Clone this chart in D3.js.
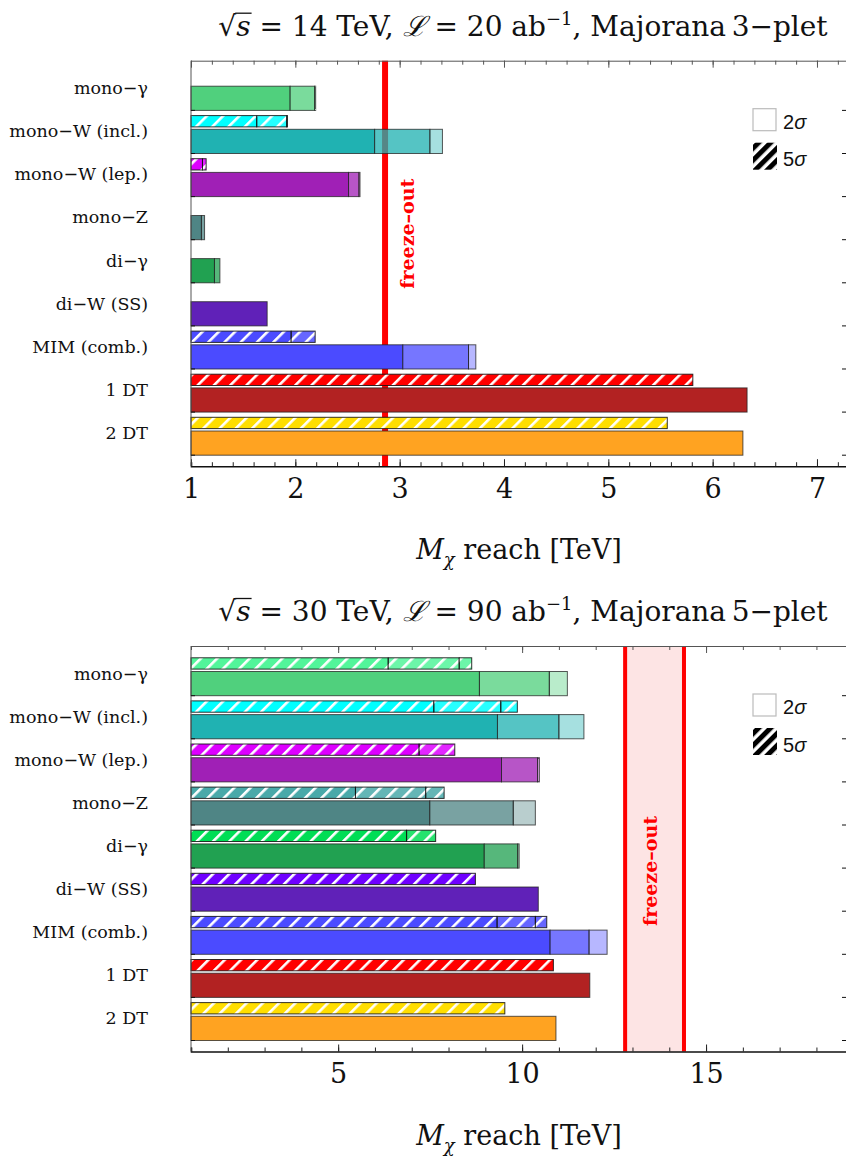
<!DOCTYPE html>
<html>
<head>
<meta charset="utf-8">
<script src="https://cdn.jsdelivr.net/npm/d3@7"></script>
<style>
  body { margin: 0; background: #fff; }
  svg { display: block; }
</style>
</head>
<body>
<svg id="chart" width="846" height="1160"></svg>
<script>
// search channels, same order in both panels
const categories = ["mono\u2212\u03b3", "mono\u2212W (incl.)", "mono\u2212W (lep.)", "mono\u2212Z",
  "di\u2212\u03b3", "di\u2212W (SS)", "MIM (comb.)", "1 DT", "2 DT"];

// colours for the 2 sigma (solid) and 5 sigma (hatched) bars
const fill2 = ["#50d07d", "#20b2b2", "#a020b6", "#4f8585", "#21a151", "#6021b8", "#4b4bff", "#b22222", "#ffa321"];
const fill5 = ["#52f59a", "#00ffff", "#dd00ff", "#49a9a9", "#00dd55", "#6f00ff", "#4b4bff", "#ff0000", "#ffde00"];

// sqrt(s) = 14 TeV, 20 ab^-1, Majorana 3-plet  (reach in TeV, up to 3 systematics steps)
const reach14_2s = [[1.95, 2.185, 2.195], [2.76, 3.29, 3.41], [2.51, 2.61, 2.62], [1.10, 1.13], [1.225, 1.277],
  [1.73], [3.03, 3.66, 3.73], [6.33], [6.29]];
const reach14_5s = [[], [1.63, 1.917, 1.925], [1.11, 1.145], [], [], [], [1.96, 2.19], [5.81], [5.565]];
const freeze14 = [2.86];

// sqrt(s) = 30 TeV, 90 ab^-1, Majorana 5-plet
const reach30_2s = [[8.84, 10.74, 11.23], [9.33, 11.0, 11.68], [9.44, 10.42, 10.47], [7.49, 9.76, 10.36],
  [8.97, 9.88, 9.92], [10.44], [10.76, 11.82, 12.31], [11.84], [10.92]];
const reach30_5s = [[6.36, 8.29, 8.63], [7.60, 9.42, 9.87], [7.20, 8.17], [5.47, 7.38, 7.88], [6.86, 7.65],
  [8.73], [9.32, 10.36, 10.67], [10.85], [9.53]];
const freeze30 = [12.8, 14.4];

const svg = d3.select("#chart");
const left = 191, right = 848, H = 405.5;
const segAlpha = [1, 0.76, 0.4];
const serif = "DejaVu Serif";

const defs = svg.append("defs");
defs.append("pattern").attr("id", "hatch")
  .attr("patternUnits", "userSpaceOnUse")
  .attr("width", 11.5).attr("height", 11.5)
  .attr("patternTransform", "rotate(45)")
  .append("rect").attr("width", 2.6).attr("height", 11.5).attr("fill", "#fff");
defs.append("pattern").attr("id", "hatchLegend")
  .attr("patternUnits", "userSpaceOnUse")
  .attr("width", 8.5).attr("height", 8.5)
  .attr("patternTransform", "rotate(45)")
  .append("rect").attr("width", 5).attr("height", 8.5).attr("fill", "#000");

function panel(top, cfg) {
  const g = svg.append("g").attr("transform", "translate(0," + top + ")");

  const x = d3.scaleLinear().domain(cfg.domain).range([left, right]);
  const y = d3.scaleBand().domain(categories).range([10, 10 + 9 * 43.1]);

  // freeze-out band / line
  if (cfg.freeze.length > 1) {
    g.append("rect")
      .attr("x", x(cfg.freeze[0])).attr("y", 0)
      .attr("width", x(cfg.freeze[1]) - x(cfg.freeze[0])).attr("height", H)
      .attr("fill", "#fde4e4");
  }
  g.selectAll(".fo").data(cfg.freeze).enter().append("line")
    .attr("x1", d => x(d)).attr("x2", d => x(d))
    .attr("y1", 0).attr("y2", H)
    .attr("stroke", "#ff0000").attr("stroke-width", cfg.freezeWidth);

  // flatten the segments: each bar split at the systematics steps
  function segments(vals) {
    const out = [];
    vals.forEach((v, i) => {
      v.forEach((end, k) => {
        out.push({cat: categories[i], i: i, k: k, x0: k === 0 ? cfg.domain[0] : v[k - 1], x1: end});
      });
    });
    return out;
  }

  // 2 sigma solid bars
  g.selectAll(".b2").data(segments(cfg.r2)).enter().append("rect")
    .attr("x", d => x(d.x0)).attr("width", d => x(d.x1) - x(d.x0))
    .attr("y", d => y(d.cat) + 15.5).attr("height", 24.2)
    .attr("fill", d => fill2[d.i]).attr("fill-opacity", d => segAlpha[d.k])
    .attr("stroke", "#222").attr("stroke-opacity", 0.75).attr("stroke-width", 1);

  // 5 sigma hatched bars
  const s5 = segments(cfg.r5);
  g.selectAll(".b5").data(s5).enter().append("rect")
    .attr("x", d => x(d.x0)).attr("width", d => x(d.x1) - x(d.x0))
    .attr("y", d => y(d.cat) + 1.8).attr("height", 11.3)
    .attr("fill", d => fill5[d.i]).attr("fill-opacity", d => d.k === 0 ? 1 : 0.85);
  g.selectAll(".h5").data(s5).enter().append("rect")
    .attr("x", d => x(d.x0)).attr("width", d => x(d.x1) - x(d.x0))
    .attr("y", d => y(d.cat) + 1.8).attr("height", 11.3)
    .attr("fill", "url(#hatch)")
    .attr("stroke", "#111").attr("stroke-opacity", 0.85).attr("stroke-width", 1);

  // frame: top ticks, left line, bottom axis
  const minor = d3.range(cfg.domain[0], cfg.domain[1] + 1e-9, cfg.minorStep);
  const major = cfg.major;
  g.append("g").call(d3.axisBottom(x).tickValues(minor).tickSize(4).tickFormat(""))
    .call(a => a.selectAll("path,line").attr("stroke", "#555"));
  g.append("g").call(d3.axisBottom(x).tickValues(major).tickSize(7).tickFormat(""))
    .call(a => a.select("path").remove())
    .call(a => a.selectAll("line").attr("stroke", "#555"));

  const bottom = g.append("g").attr("transform", "translate(0," + H + ")");
  bottom.append("g").call(d3.axisTop(x).tickValues(minor).tickSize(4).tickFormat(""))
    .call(a => a.select("path").attr("stroke", "#111").attr("stroke-width", 1.6))
    .call(a => a.selectAll("line").attr("stroke", "#222"));
  bottom.append("g").call(d3.axisTop(x).tickValues(major).tickSize(7).tickFormat(""))
    .call(a => a.select("path").remove())
    .call(a => a.selectAll("line").attr("stroke", "#222"));
  bottom.append("g").call(d3.axisBottom(x).tickValues(cfg.labels).tickFormat(d3.format("d")).tickSize(0).tickPadding(12))
    .call(a => a.select("path").remove())
    .call(a => a.selectAll("text").attr("font-family", serif).attr("font-size", 27).attr("fill", "#111").attr("dy", "0.72em"));

  g.append("line").attr("x1", left).attr("x2", left).attr("y1", 0).attr("y2", H)
    .attr("stroke", "#555").attr("stroke-width", 1);

  // row ticks on both sides
  g.selectAll(".tl").data(categories).enter().append("line")
    .attr("x1", left).attr("x2", left + 4)
    .attr("y1", d => y(d) + 39.7).attr("y2", d => y(d) + 39.7)
    .attr("stroke", "#111");
  g.selectAll(".tr").data(categories).enter().append("line")
    .attr("x1", 846).attr("x2", 842)
    .attr("y1", d => y(d) + 39.7).attr("y2", d => y(d) + 39.7)
    .attr("stroke", "#111");

  // channel labels
  g.selectAll(".cl").data(categories).enter().append("text")
    .attr("x", 148).attr("y", d => y(d) + 23.5)
    .attr("text-anchor", "end")
    .attr("font-family", serif).attr("font-size", 17.5).attr("fill", "#111")
    .text(d => d);

  // freeze-out label
  g.append("text")
    .attr("transform", "translate(" + (x(cfg.freeze[0]) + cfg.foDx) + "," + cfg.foY + ") rotate(-90)")
    .attr("text-anchor", "middle")
    .attr("font-family", serif).attr("font-weight", "bold").attr("font-size", 19)
    .attr("fill", "#ff0000")
    .text("freeze\u2013out");

  // legend
  const lg = g.append("g").attr("transform", "translate(753,48)");
  lg.append("rect").attr("width", 23).attr("height", 22)
    .attr("fill", "#fff").attr("stroke", "#bbb").attr("stroke-width", 1.2);
  lg.append("rect").attr("y", 34).attr("width", 24).attr("height", 27)
    .attr("fill", "url(#hatchLegend)");
  const lt = lg.selectAll(".lt").data(["2", "5"]).enter().append("text")
    .attr("x", 30).attr("y", (d, i) => 20 + i * 37.5)
    .attr("font-family", "Liberation Sans").attr("font-size", 20).attr("fill", "#111");
  lt.append("tspan").text(d => d);
  lt.append("tspan").attr("font-style", "italic").text("\u03c3");

  // title
  const t = g.append("text").attr("x", 523).attr("y", -25)
    .attr("text-anchor", "middle")
    .attr("font-family", serif).attr("font-size", 28).attr("fill", "#111");
  t.append("tspan").text("\u221a");
  t.append("tspan").attr("font-style", "italic").text("s");
  t.append("tspan").text(" = " + cfg.energy + " TeV, ");
  t.append("tspan").attr("font-style", "italic").text("\u2112");
  t.append("tspan").text(" = " + cfg.lumi + " ab");
  t.append("tspan").attr("dy", -11).attr("font-size", 18).text("\u22121");
  t.append("tspan").attr("dy", 11).text(", Majorana\u2009" + cfg.n + "\u2212plet");
  const node = t.node();
  const sq = node.getExtentOfChar(0), sc = node.getExtentOfChar(1);
  g.append("line")
    .attr("x1", sq.x + sq.width - 1).attr("x2", sc.x + sc.width + 1)
    .attr("y1", -25 - 22.5).attr("y2", -25 - 22.5)
    .attr("stroke", "#111").attr("stroke-width", 1.3);

  // x axis title
  const xt = g.append("text").attr("x", 519).attr("y", H + 93)
    .attr("text-anchor", "middle")
    .attr("font-family", serif).attr("font-size", 27).attr("fill", "#111");
  xt.append("tspan").attr("font-style", "italic").text("M");
  xt.append("tspan").attr("font-style", "italic").attr("font-size", 18).attr("dy", 7).text("\u03c7");
  xt.append("tspan").attr("dy", -7).text(" reach [TeV]");
}

panel(60.7, {
  domain: [1, 1 + (right - left) / 104.33],
  minorStep: 0.2, major: [1, 2, 3, 4, 5, 6, 7], labels: [1, 2, 3, 4, 5, 6, 7],
  r2: reach14_2s, r5: reach14_5s, freeze: freeze14, freezeWidth: 6,
  foDx: 29, foY: 173, energy: 14, lumi: 20, n: 3
});

panel(646, {
  domain: [1, 1 + (right - left) / 36.79],
  minorStep: 1, major: [5, 10, 15], labels: [5, 10, 15],
  r2: reach30_2s, r5: reach30_5s, freeze: freeze30, freezeWidth: 4,
  foDx: 32, foY: 225, energy: 30, lumi: 90, n: 5
});
</script>
</body>
</html>
